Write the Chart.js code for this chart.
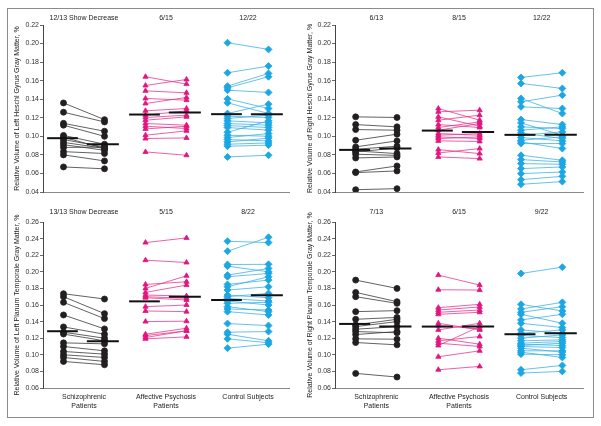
<!DOCTYPE html>
<html>
<head>
<meta charset="utf-8">
<script src="https://cdn.jsdelivr.net/npm/chart.js@4.4.1/dist/chart.umd.min.js"></script>
<style>
  html, body { margin: 0; padding: 0; background: #fff; }
  #wrap { position: relative; width: 601px; height: 426px; overflow: hidden; }
  #frame { position: absolute; left: 7px; top: 8px; width: 587px; height: 410px; border: 1.5px solid #8c8c8c; box-sizing: border-box; }
  canvas { position: absolute; }
</style>
</head>
<body>
<div id="wrap">
  <div id="frame"></div>
  <canvas id="lhg" width="300" height="200" style="left:0;top:0"></canvas>
  <canvas id="rhg" width="301" height="200" style="left:300px;top:0"></canvas>
  <canvas id="lpt" width="300" height="226" style="left:0;top:200px"></canvas>
  <canvas id="rpt" width="301" height="226" style="left:300px;top:200px"></canvas>
</div>
<script>
// group labels on the x axis
const categories = [['Schizophrenic', 'Patients'], ['Affective Psychosis', 'Patients'], ['Control Subjects']];

// Left Heschl gyrus
const lhgNotes = ['12/13 Show Decrease', '6/15', '12/22'];
const lhgSchizBefore = [0.136, 0.126, 0.114, 0.112, 0.101, 0.099, 0.0965, 0.0935, 0.091, 0.088, 0.0835, 0.080, 0.067];
const lhgSchizAfter  = [0.118, 0.1155, 0.1055, 0.100, 0.0915, 0.087, 0.0885, 0.087, 0.085, 0.0885, 0.0815, 0.0735, 0.065];
const lhgAffBefore = [0.1642, 0.1548, 0.149, 0.1408, 0.1354, 0.1275, 0.1228, 0.1203, 0.1174, 0.1138, 0.1109, 0.108, 0.1012, 0.0976, 0.0832];
const lhgAffAfter  = [0.1563, 0.1613, 0.1469, 0.139, 0.1419, 0.13, 0.1275, 0.1228, 0.121, 0.112, 0.1084, 0.1109, 0.1059, 0.0983, 0.0796];
const lhgCtrlBefore = [0.2009, 0.1685, 0.1541, 0.1523, 0.1498, 0.1404, 0.1361, 0.1246, 0.1217, 0.1192, 0.1167, 0.1138, 0.1116, 0.1095, 0.1044, 0.1012, 0.0987, 0.0965, 0.094, 0.0915, 0.0893, 0.0778];
const lhgCtrlAfter  = [0.1937, 0.1757, 0.1678, 0.1642, 0.1473, 0.13, 0.1246, 0.1347, 0.1203, 0.1228, 0.1145, 0.112, 0.1095, 0.1066, 0.1167, 0.1001, 0.103, 0.0951, 0.098, 0.0929, 0.0905, 0.0796];
const lhgMeanBefore = [0.098, 0.1235, 0.1239];
const lhgMeanAfter  = [0.0915, 0.1257, 0.1239];

// Right Heschl gyrus
const rhgNotes = ['6/13', '8/15', '12/22'];
const rhgSchizBefore = [0.121, 0.1127, 0.1073, 0.0958, 0.0886, 0.0861, 0.0843, 0.0832, 0.0807, 0.0767, 0.0616, 0.0609, 0.0425];
const rhgSchizAfter  = [0.1203, 0.1102, 0.1066, 0.1023, 0.0951, 0.0893, 0.0814, 0.0875, 0.0795, 0.0778, 0.0681, 0.0627, 0.0436];
const rhgAffBefore = [0.13, 0.1264, 0.121, 0.1174, 0.1127, 0.1095, 0.1066, 0.103, 0.1012, 0.0994, 0.0976, 0.0951, 0.0857, 0.0821, 0.0778];
const rhgAffAfter  = [0.1174, 0.1282, 0.1109, 0.1228, 0.1095, 0.1156, 0.1138, 0.1012, 0.103, 0.0976, 0.0994, 0.0945, 0.0814, 0.0868, 0.076];
const rhgCtrlBefore = [0.1635, 0.157, 0.1408, 0.1372, 0.1318, 0.1181, 0.1145, 0.1102, 0.1066, 0.1037, 0.1012, 0.0987, 0.0958, 0.094, 0.0922, 0.0796, 0.0749, 0.0706, 0.0652, 0.0598, 0.0533, 0.0483];
const rhgCtrlAfter  = [0.1685, 0.1516, 0.1246, 0.1444, 0.13, 0.1127, 0.1012, 0.1084, 0.1102, 0.0976, 0.1048, 0.0951, 0.0994, 0.0868, 0.0922, 0.0742, 0.0724, 0.0699, 0.067, 0.0616, 0.0569, 0.0512];
const rhgMeanBefore = [0.0854, 0.1062, 0.1016];
const rhgMeanAfter  = [0.0868, 0.1048, 0.1016];

// Left planum temporale
const lptNotes = ['13/13 Show Decrease', '5/15', '8/22'];
const lptSchizBefore = [0.1736, 0.17, 0.1632, 0.148, 0.1336, 0.1272, 0.125, 0.1144, 0.11, 0.104, 0.1, 0.0968, 0.092];
const lptSchizAfter  = [0.1672, 0.1496, 0.1436, 0.1312, 0.1248, 0.12, 0.1168, 0.1132, 0.1048, 0.1008, 0.0968, 0.092, 0.088];
const lptAffBefore = [0.2352, 0.214, 0.1848, 0.18, 0.1752, 0.172, 0.17, 0.1688, 0.158, 0.1528, 0.14, 0.1248, 0.1232, 0.1208, 0.1192];
const lptAffAfter  = [0.2408, 0.2112, 0.188, 0.1952, 0.184, 0.1708, 0.168, 0.166, 0.16, 0.152, 0.1405, 0.132, 0.1288, 0.129, 0.1216];
const lptCtrlBefore = [0.2368, 0.2248, 0.2088, 0.2068, 0.196, 0.194, 0.1848, 0.182, 0.178, 0.172, 0.17, 0.168, 0.1648, 0.162, 0.158, 0.1552, 0.152, 0.1376, 0.1272, 0.1248, 0.1192, 0.108];
const lptCtrlAfter  = [0.2352, 0.2416, 0.209, 0.2, 0.204, 0.198, 0.19, 0.194, 0.182, 0.1688, 0.174, 0.1648, 0.16, 0.1632, 0.152, 0.154, 0.148, 0.1352, 0.128, 0.1168, 0.1145, 0.1128];
const lptMeanBefore = [0.1284, 0.1644, 0.166];
const lptMeanAfter  = [0.1164, 0.17, 0.1716];

// Right planum temporale
const rptNotes = ['7/13', '6/15', '9/22'];
const rptSchizBefore = [0.19, 0.1752, 0.17, 0.152, 0.1428, 0.136, 0.134, 0.1308, 0.128, 0.1244, 0.1192, 0.1148, 0.0776];
const rptSchizAfter  = [0.18, 0.164, 0.162, 0.1532, 0.145, 0.1428, 0.14, 0.134, 0.1265, 0.128, 0.1188, 0.112, 0.0732];
const rptAffBefore = [0.196, 0.1784, 0.1568, 0.154, 0.1512, 0.1488, 0.138, 0.1352, 0.13, 0.12, 0.1168, 0.114, 0.1112, 0.0976, 0.082];
const rptAffAfter  = [0.184, 0.178, 0.1608, 0.1576, 0.154, 0.1512, 0.13, 0.1312, 0.138, 0.1128, 0.122, 0.11, 0.134, 0.1048, 0.086];
const rptCtrlBefore = [0.198, 0.1608, 0.1552, 0.1512, 0.1488, 0.142, 0.138, 0.13, 0.126, 0.1232, 0.12, 0.1168, 0.114, 0.1128, 0.1112, 0.11, 0.108, 0.1048, 0.1032, 0.1008, 0.082, 0.078];
const rptCtrlAfter  = [0.2056, 0.1528, 0.1632, 0.158, 0.138, 0.1488, 0.1328, 0.126, 0.13, 0.1208, 0.124, 0.118, 0.116, 0.1112, 0.114, 0.1088, 0.1032, 0.1048, 0.0968, 0.1, 0.0872, 0.08];
const rptMeanBefore = [0.1372, 0.134, 0.1248];
const rptMeanAfter  = [0.134, 0.134, 0.126];

const FONT = "'Liberation Sans', Arial, sans-serif";
Chart.defaults.font.family = FONT;
Chart.defaults.animation = false;

const centers = [1, 3, 5];
const groupStyle = [
  { point: 'circle', radius: 3, fill: '#231f20', line: '#3a3a3a' },
  { point: 'triangle', radius: 3, fill: '#e2157f', line: '#e8398f' },
  { point: 'rectRot', radius: 3.5, fill: '#1aa7e3', line: '#3fb3e6' }
];

// writes the "x/n" notes above each group
const notesPlugin = {
  id: 'notes',
  afterDraw(chart, args, opts) {
    const ctx = chart.ctx;
    const x = chart.scales.x;
    ctx.save();
    ctx.font = '7px ' + FONT;
    ctx.fillStyle = '#222';
    ctx.textAlign = 'center';
    ctx.textBaseline = 'middle';
    opts.text.forEach((t, i) => ctx.fillText(t, x.getPixelForValue(centers[i]), opts.y));
    ctx.restore();
  }
};

function drawPanel(id, p) {
  const datasets = [];
  // mean bars go first so they end up drawn on top
  centers.forEach((c, gi) => {
    [[c - 0.9, c - 0.15, p.meanBefore[gi]], [c + 0.07, c + 0.85, p.meanAfter[gi]]].forEach(m => {
      datasets.push({
        data: [{ x: m[0], y: m[2] }, { x: m[1], y: m[2] }],
        showLine: true, borderColor: '#111', borderWidth: 2, pointRadius: 0
      });
    });
  });
  p.groups.forEach((g, gi) => {
    const s = groupStyle[gi];
    g[0].forEach((b, i) => {
      datasets.push({
        data: [{ x: centers[gi] - 0.5, y: b }, { x: centers[gi] + 0.5, y: g[1][i] }],
        showLine: true,
        borderColor: s.line,
        borderWidth: 0.8,
        pointStyle: s.point,
        pointRadius: s.radius,
        pointBackgroundColor: s.fill,
        pointBorderColor: s.fill,
        pointBorderWidth: 0.8
      });
    });
  });

  new Chart(document.getElementById(id), {
    type: 'scatter',
    data: { datasets },
    options: {
      responsive: false,
      layout: { padding: p.padding },
      plugins: {
        legend: { display: false },
        tooltip: { enabled: false },
        notes: { text: p.notes, y: p.noteY }
      },
      scales: {
        x: {
          type: 'linear', min: 0, max: 6,
          grid: { display: false, tickLength: 0 },
          border: { display: true, color: '#8a8a8a', width: 1 },
          afterBuildTicks: s => { s.ticks = centers.map(v => ({ value: v })); },
          afterFit: s => { s.height = p.xHeight; },
          ticks: {
            display: p.showCategories,
            autoSkip: false, maxRotation: 0, padding: 5,
            color: '#222',
            font: { size: 7, lineHeight: 1.2 },
            callback: (v, i) => categories[i]
          }
        },
        y: {
          min: p.yMin, max: p.yMax,
          afterFit: s => { s.width = p.yWidth; },
          grid: { drawOnChartArea: false, drawTicks: true, tickLength: 3, color: '#444', lineWidth: 0.8 },
          border: { display: true, color: '#444', width: 1 },
          ticks: {
            stepSize: 0.02, padding: 1, color: '#333',
            font: { size: 7 },
            callback: v => v.toFixed(2)
          },
          title: {
            display: true, text: p.yTitle, color: '#222',
            font: { size: 7 }, padding: { top: 4.5, bottom: 0 }
          }
        }
      }
    },
    plugins: [notesPlugin]
  });
}

drawPanel('lhg', {
  groups: [[lhgSchizBefore, lhgSchizAfter], [lhgAffBefore, lhgAffAfter], [lhgCtrlBefore, lhgCtrlAfter]],
  meanBefore: lhgMeanBefore, meanAfter: lhgMeanAfter, notes: lhgNotes,
  yMin: 0.04, yMax: 0.22, yTitle: 'Relative Volume of Left Heschl Gyrus Gray Matter, %',
  padding: { left: 8, right: 11, top: 25, bottom: 0 }, yWidth: 35, xHeight: 8, noteY: 18, showCategories: false
});
drawPanel('rhg', {
  groups: [[rhgSchizBefore, rhgSchizAfter], [rhgAffBefore, rhgAffAfter], [rhgCtrlBefore, rhgCtrlAfter]],
  meanBefore: rhgMeanBefore, meanAfter: rhgMeanAfter, notes: rhgNotes,
  yMin: 0.04, yMax: 0.22, yTitle: 'Relative Volume of Right Heschl Gyrus Gray Matter, %',
  padding: { left: 1, right: 18, top: 25, bottom: 0 }, yWidth: 34, xHeight: 8, noteY: 18, showCategories: false
});
drawPanel('lpt', {
  groups: [[lptSchizBefore, lptSchizAfter], [lptAffBefore, lptAffAfter], [lptCtrlBefore, lptCtrlAfter]],
  meanBefore: lptMeanBefore, meanAfter: lptMeanAfter, notes: lptNotes,
  yMin: 0.06, yMax: 0.26, yTitle: 'Relative Volume of Left Planum Temporale Gray Matter, %',
  padding: { left: 8, right: 11, top: 22, bottom: 0 }, yWidth: 35, xHeight: 38, noteY: 12, showCategories: true
});
drawPanel('rpt', {
  groups: [[rptSchizBefore, rptSchizAfter], [rptAffBefore, rptAffAfter], [rptCtrlBefore, rptCtrlAfter]],
  meanBefore: rptMeanBefore, meanAfter: rptMeanAfter, notes: rptNotes,
  yMin: 0.06, yMax: 0.26, yTitle: 'Relative Volume of Right Planum Temporale Gray Matter, %',
  padding: { left: 1, right: 18, top: 22, bottom: 0 }, yWidth: 34, xHeight: 38, noteY: 12, showCategories: true
});
</script>
</body>
</html>
